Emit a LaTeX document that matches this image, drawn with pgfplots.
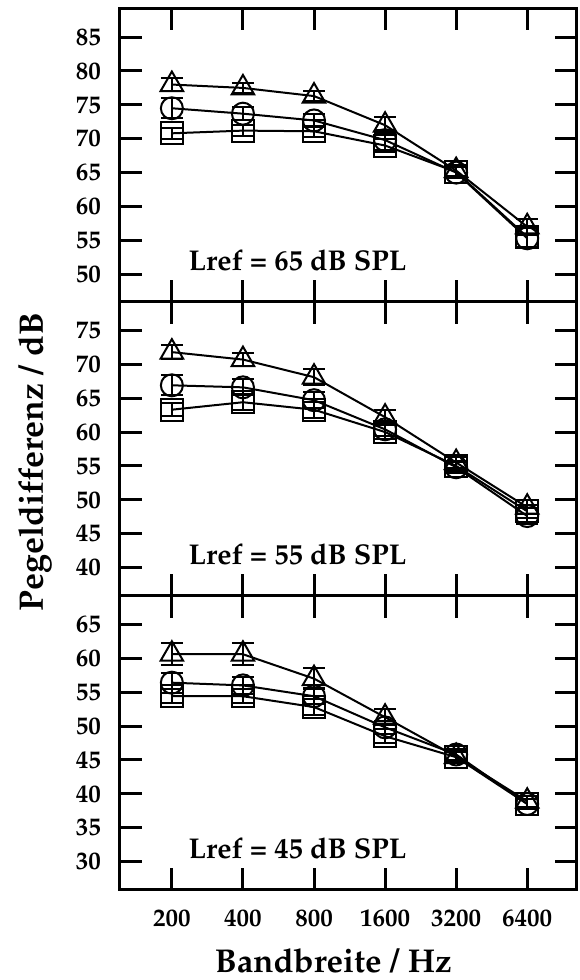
\documentclass[border=0pt]{standalone}
\usepackage[T1]{fontenc}
\usepackage{mathpazo}
\usepackage{pgfplots}
\usepackage{pgfplotstable}
\pgfplotsset{compat=1.18}
\usepgfplotslibrary{groupplots}

% x: 0..5 = 200..6400 Hz, y = Pegeldifferenz, e = error
\pgfplotstableread[row sep=\\]{x y e\\ 0 78.0 1.0\\ 1 77.5 0.8\\ 2 76.3 0.8\\ 3 72.0 1.2\\ 4 65.3 0.8\\ 5 57.0 1.2\\}\triA
\pgfplotstableread[row sep=\\]{x y e\\ 0 74.5 1.5\\ 1 73.7 1.0\\ 2 72.7 1.0\\ 3 69.8 1.5\\ 4 65.0 0.8\\ 5 55.3 1.5\\}\cirA
\pgfplotstableread[row sep=\\]{x y e\\ 0 70.8 0.8\\ 1 71.2 0.8\\ 2 71.1 0.8\\ 3 69.0 1.0\\ 4 65.1 0.8\\ 5 55.5 1.5\\}\squA

\pgfplotstableread[row sep=\\]{x y e\\ 0 71.8 1.0\\ 1 70.7 1.0\\ 2 68.1 1.2\\ 3 62.2 1.0\\ 4 55.5 0.8\\ 5 48.9 1.0\\}\triB
\pgfplotstableread[row sep=\\]{x y e\\ 0 66.9 1.5\\ 1 66.6 1.2\\ 2 64.7 1.2\\ 3 60.4 1.0\\ 4 54.8 0.8\\ 5 47.6 1.2\\}\cirB
\pgfplotstableread[row sep=\\]{x y e\\ 0 63.3 1.0\\ 1 64.4 1.2\\ 2 63.3 1.2\\ 3 60.0 1.0\\ 4 55.0 0.8\\ 5 48.3 1.0\\}\squB

\pgfplotstableread[row sep=\\]{x y e\\ 0 60.6 1.6\\ 1 60.6 1.6\\ 2 57.0 1.6\\ 3 51.3 1.2\\ 4 45.5 0.8\\ 5 38.9 0.8\\}\triC
\pgfplotstableread[row sep=\\]{x y e\\ 0 56.4 1.5\\ 1 56.0 1.2\\ 2 54.4 1.2\\ 3 49.8 1.0\\ 4 45.8 0.8\\ 5 38.5 0.8\\}\cirC
\pgfplotstableread[row sep=\\]{x y e\\ 0 54.4 1.0\\ 1 54.4 1.0\\ 2 52.8 1.2\\ 3 48.5 1.0\\ 4 45.4 0.8\\ 5 38.5 0.8\\}\squC

\pgfplotsset{
  ser/.style={black, line width=1pt, mark options={solid, line width=1pt, fill=none},
    error bars/y dir=both, error bars/y explicit,
    error bars/error bar style={line width=1pt},
    error bars/error mark options={rotate=90, mark size=5.5pt, line width=1pt}},
  tri/.style={ser, mark=triangle, mark size=6.5pt},
  cir/.style={ser, mark=o, mark size=5.5pt},
  squ/.style={ser, mark=square, mark size=5.5pt},
}
\tikzset{lref/.style={anchor=base west, font=\bfseries\fontsize{14.3}{16}\selectfont}}

\begin{document}
\begin{tikzpicture}
\begin{groupplot}[
    group style={group size=1 by 3, vertical sep=0pt, xticklabels at=edge bottom},
    width=228.5pt, height=147pt, scale only axis,
    xmin=-0.73, xmax=5.70,
    xtick={0,...,5}, xticklabels={200,400,800,1600,3200,6400},
    tick align=inside, tick pos=both,
    major tick length=11pt,
    xtick style={black, line width=1.5pt},
    ytick style={black, line width=1.5pt},
    axis line style={line width=1.5pt},
    minor tick num=0,
    ticklabel style={font=\bfseries\fontsize{12.5}{14}\selectfont},
    /pgf/number format/assume math mode=true,
    yticklabel style={xshift=-6pt},
    xticklabel style={yshift=-6.5pt},
    clip=false,
]
\nextgroupplot[ymin=45.9, ymax=89.3, ytick={50,55,...,85}]
\addplot[tri] table[y error=e]{\triA};
\addplot[cir] table[y error=e]{\cirA};
\addplot[squ] table[y error=e]{\squA};
\node[lref] at (rel axis cs:0.135,0.108) {Lref = 65 dB SPL};

\nextgroupplot[ymin=35.8, ymax=79.2, ytick={40,45,...,75},
    ylabel={Pegeldifferenz / dB},
    ylabel style={at={(rel axis cs:-0.1685,0.455)}, anchor=base, font=\bfseries\fontsize{17}{19}\selectfont}]
\addplot[tri] table[y error=e]{\triB};
\addplot[cir] table[y error=e]{\cirB};
\addplot[squ] table[y error=e]{\squB};
\node[lref] at (rel axis cs:0.135,0.108) {Lref = 55 dB SPL};

\nextgroupplot[ymin=25.8, ymax=69.2, ytick={30,35,...,65},
    xlabel={Bandbreite / Hz},
    xlabel style={at={(rel axis cs:0.467,-0.2823)}, anchor=base, font=\bfseries\fontsize{16.5}{18}\selectfont}]
\addplot[tri] table[y error=e]{\triC};
\addplot[cir] table[y error=e]{\cirC};
\addplot[squ] table[y error=e]{\squC};
\node[lref] at (rel axis cs:0.135,0.108) {Lref = 45 dB SPL};
\end{groupplot}
\path (group c1r3.south west) ++(-60pt,-44pt) (group c1r1.north east) ++(1.5pt,4pt);
\end{tikzpicture}
\end{document}
